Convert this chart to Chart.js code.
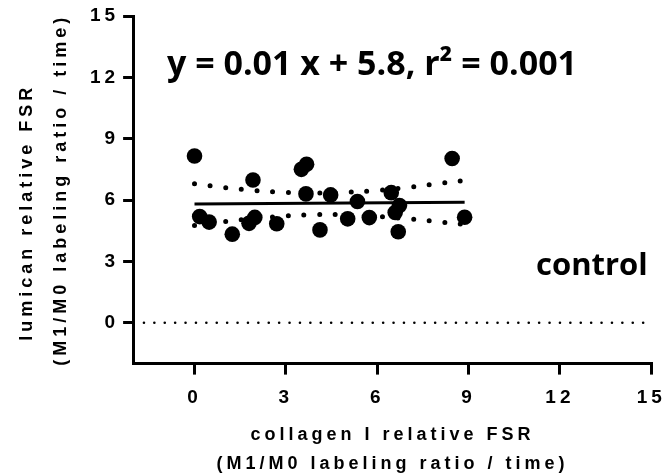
<!DOCTYPE html>
<html><head><meta charset="utf-8">
<script src="https://cdn.jsdelivr.net/npm/chart.js@4"></script>
<style>html,body{margin:0;padding:0;background:#fff}#wrap{width:667px;height:476px}</style>
</head><body><div id="wrap"><canvas id="c" width="667" height="476"></canvas></div>
<script>
// ---- data ----
const xValues = [0.00, 0.17, 0.48, 1.24, 1.79, 1.92, 1.98, 2.70, 3.51, 3.68, 3.66, 4.12, 4.47, 5.03, 5.35, 5.74, 6.46, 6.59, 6.73, 6.69, 8.46, 8.87];
const yValues = [8.15, 5.19, 4.92, 4.33, 4.86, 6.98, 5.15, 4.84, 7.50, 7.75, 6.30, 4.54, 6.25, 5.08, 5.93, 5.14, 6.36, 5.39, 5.73, 4.45, 8.03, 5.16];
const fitX = [0, 8.87];
const fitY = [5.80, 5.89];
const bandX = [0, 1, 2, 3, 4, 5, 6, 7, 8, 8.87];
const bandUpper = [6.79, 6.61, 6.46, 6.37, 6.34, 6.38, 6.47, 6.61, 6.80, 6.95];
const bandLower = [4.75, 4.95, 5.10, 5.22, 5.29, 5.27, 5.20, 5.08, 4.94, 4.80];
const zeroX = [-1.66, 14.74];
const zeroY = [0, 0];
const xTicks = [0, 3, 6, 9, 12, 15];
const yTicks = [0, 3, 6, 9, 12, 15];
const xTitle = ['collagen I relative FSR', '(M1/M0 labeling ratio / time)'];
const yTitle = ['lumican relative FSR     ', '(M1/M0 labeling ratio / time)'];
const equationText = 'y = 0.01 x + 5.8, r\u00B2 = 0.001';
const groupText = 'control';

const pts = (xs, ys) => xs.map((x, i) => ({x: x, y: ys[i]}));
const AX = '"Liberation Sans", Arial, sans-serif';
const SP = '4px';

const textPlugin = {
  id: 'textPlugin',
  beforeUpdate(chart) { chart.ctx.letterSpacing = SP; },
  beforeLayout(chart) { chart.ctx.letterSpacing = SP; },
  beforeDraw(chart) { chart.ctx.letterSpacing = SP; },
  afterDraw(chart) {
    const ctx = chart.ctx;
    ctx.save();
    ctx.letterSpacing = '0px';
    ctx.fillStyle = '#000';
    ctx.textAlign = 'left';
    ctx.textBaseline = 'alphabetic';
    ctx.font = 'bold 34px "Open Sans", sans-serif';
    ctx.fillText(equationText, 167, 75);
    ctx.font = 'bold 31px "Open Sans", sans-serif';
    ctx.fillText(groupText, 536, 275);
    ctx.restore();
  }
};

const lineDs = (data, extra) => Object.assign({
  data: data, showLine: true, pointRadius: 0, pointHoverRadius: 0,
  borderColor: '#000', backgroundColor: '#000', fill: false, order: 1
}, extra);

new Chart(document.getElementById('c'), {
  type: 'scatter',
  data: {
    datasets: [
      {data: pts(xValues, yValues), pointRadius: 7.8, pointHoverRadius: 7.8, borderWidth: 0,
       backgroundColor: '#000', pointStyle: 'circle', order: 0},
      lineDs(pts(fitX, fitY), {borderWidth: 3}),
      lineDs(pts(bandX, bandUpper), {borderWidth: 5, borderDash: [0, 15.7], borderCapStyle: 'round', tension: 0.4}),
      lineDs(pts(bandX, bandLower), {borderWidth: 5, borderDash: [0, 15.7], borderCapStyle: 'round', tension: 0.4}),
      lineDs(pts(zeroX, zeroY), {borderWidth: 2.6, borderDash: [0, 10.4], borderCapStyle: 'round'})
    ]
  },
  options: {
    responsive: false, animation: false, events: [],
    layout: {padding: {top: 16, right: 15.7, left: 0, bottom: 0}},
    plugins: {legend: {display: false}, tooltip: {enabled: false}},
    scales: {
      x: {
        type: 'linear', min: -2, max: 15,
        afterBuildTicks: s => { s.ticks = xTicks.map(v => ({value: v})); },
        afterFit: s => { s.height = 112.4; s.paddingLeft = 0; s.paddingRight = 0; },
        border: {display: true, color: '#000', width: 3},
        grid: {display: true, drawOnChartArea: false, drawTicks: true, tickLength: 11, tickWidth: 3, tickColor: '#000', color: '#000', lineWidth: 3},
        ticks: {color: '#000', font: {family: AX, size: 19, weight: 'bold'}, padding: 12, maxRotation: 0, autoSkip: false},
        title: {display: true, text: xTitle, color: '#000', font: {family: AX, size: 18, weight: 'bold', lineHeight: 1.61}, padding: {top: 0, bottom: -2.5}}
      },
      y: {
        type: 'linear', min: -2, max: 15,
        afterBuildTicks: s => { s.ticks = yTicks.map(v => ({value: v})); },
        afterFit: s => { s.width = 133.6; s.paddingTop = 0; s.paddingBottom = 0; },
        border: {display: true, color: '#000', width: 3},
        grid: {display: true, drawOnChartArea: false, drawTicks: true, tickLength: 10.5, tickWidth: 3, tickColor: '#000', color: '#000', lineWidth: 3},
        ticks: {color: '#000', font: {family: AX, size: 19, weight: 'bold'}, padding: 4, autoSkip: false},
        title: {display: true, text: yTitle, color: '#000', font: {family: AX, size: 18, weight: 'bold', lineHeight: 1.9}, padding: {top: 10, bottom: 0}}
      }
    }
  },
  plugins: [textPlugin]
});
</script>
</body></html>
